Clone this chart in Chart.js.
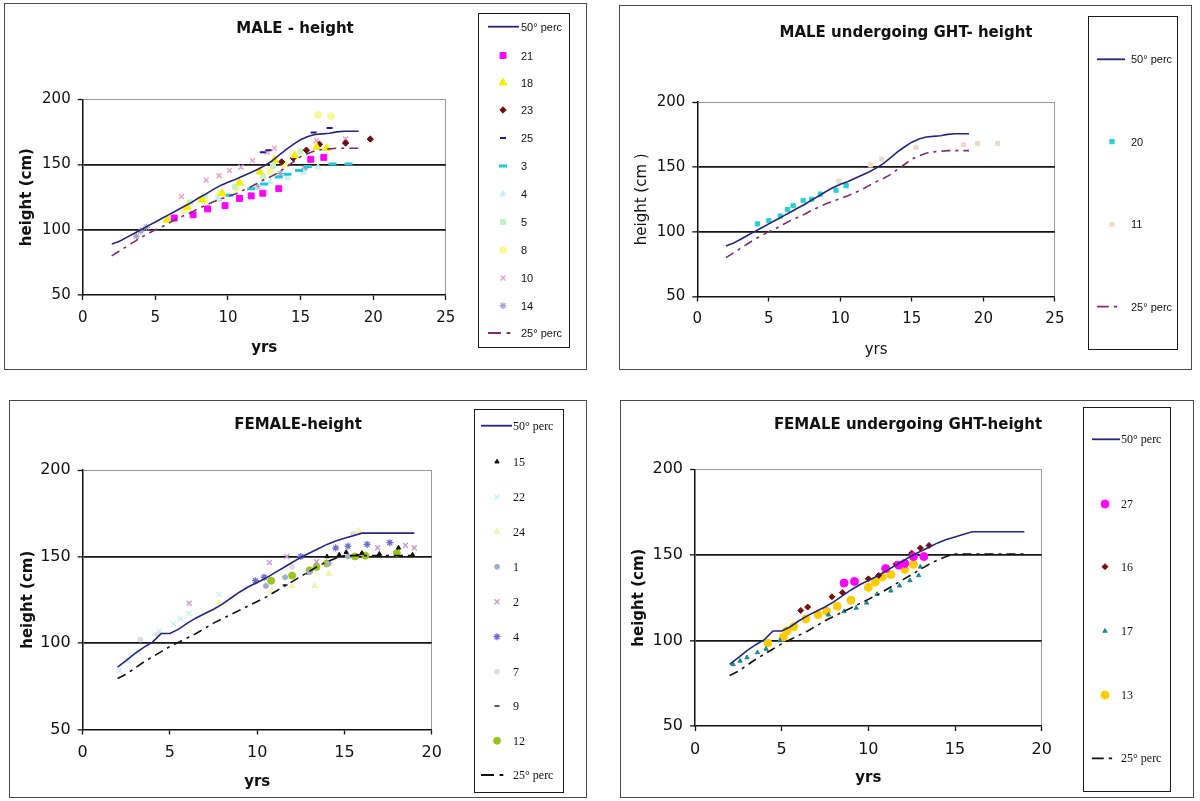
<!DOCTYPE html>
<html>
<head>
<meta charset="utf-8">
<title>Height charts</title>
<script src="https://cdn.jsdelivr.net/npm/chart.js@4.4.1/dist/chart.umd.min.js"></script>
<style>
  html, body { margin: 0; padding: 0; background: #fff; }
  #page { position: relative; width: 1200px; height: 801px; overflow: hidden; background: #fff; }
  .panel { position: absolute; border: 1px solid #4a4a4a; box-sizing: border-box; }
  .panel canvas { position: absolute; left: 0; top: 0; }
  .title { position: absolute; font: bold 15px "DejaVu Sans", sans-serif; white-space: nowrap; transform: translate(-50%, -50%); color: #111; }
  .legbox { position: absolute; border: 1.5px solid #1a1a1a; box-sizing: border-box; }
  .legtext { position: absolute; white-space: nowrap; transform: translateY(-50%); color: #111; line-height: 1; }
  #legendLayer { position: absolute; left: 0; top: 0; pointer-events: none; }
</style>
</head>
<body>
<div id="page"></div>
<script>
const percAge  = [2, 2.5, 3, 3.5, 4, 4.5, 5, 5.5, 6, 6.5, 7, 7.5, 8, 8.5, 9, 9.5, 10, 10.5, 11, 11.5, 12, 12.5, 13, 13.5, 14, 14.5, 15, 15.5, 16, 16.5, 17, 17.5, 18, 18.5, 19];
const male50   = [89, 91, 94, 97, 100, 103, 106, 109, 112, 115, 118, 121, 124.5, 127.5, 131, 134, 136.5, 138.5, 141, 143.5, 146, 149, 152.5, 157, 161.5, 165.5, 169, 171.5, 173, 173.5, 174, 175, 175.5, 175.5, 175.5];
const male25   = [80, 83.5, 87, 90.5, 94, 97, 100, 102.5, 105.5, 108.5, 111, 113.5, 116.5, 119, 121.5, 123.5, 125.5, 127.5, 130, 132.5, 135.5, 138.5, 141, 144, 148, 152, 156, 158.5, 160.5, 161.5, 162, 162.5, 162.5, 162.5, 162.5];
const female50 = [86, 90, 94, 97.5, 100.5, 105.5, 105.5, 108, 111.5, 114.5, 117, 119.5, 122.5, 126, 129.5, 132.5, 135, 137.5, 140.5, 143.5, 146.5, 149.5, 152, 154.5, 157, 159, 160.5, 162, 163.5, 163.5, 163.5, 163.5, 163.5, 163.5, 163.5];
const female25 = [79.5, 82, 85.5, 89, 92, 95, 98, 100.5, 103, 105.5, 108.5, 111.5, 114, 116.5, 119, 121.5, 124, 126.5, 129.5, 132.5, 135.5, 138.5, 141.5, 144.5, 147, 149, 150.5, 150.5, 150.5, 150.5, 150.5, 150.5, 150.5, 150.5, 150.5];

// MALE - height
const m21Age = [6.3, 7.6, 8.6, 9.8, 10.8, 11.6, 12.4, 13.5, 15.7, 16.6];
const m21Ht  = [109, 111.5, 116, 118.5, 124, 126, 128, 131.5, 154, 155.5];
const m18Age = [5.8, 7.2, 8.2, 9.6, 10.8, 12.2, 13.2, 14.6, 16.1, 16.8];
const m18Ht  = [107.5, 117.5, 123, 128, 136, 144.5, 153.5, 157, 163.5, 162.5];
const m23Age = [13.7, 14.5, 15.4, 16.3, 18.1, 19.8];
const m23Ht  = [152, 155, 161, 165.5, 166.5, 169.5];
const m25Age = [12.4, 12.8, 15.9, 17.0];
const m25Ht  = [159.5, 161, 174.5, 178];
const m3Age  = [10.1, 11.6, 12.5, 13.5, 14.1, 14.9, 15.5, 17.2, 18.3];
const m3Ht   = [126.5, 131.5, 135, 140.5, 142.5, 145.5, 148.5, 150.5, 150.5];
const m4Age  = [9.3, 11.8, 12.9, 14.1, 15.2, 16.2];
const m4Ht   = [124, 133, 137, 140, 144, 148];
const m5Age  = [7.4, 8.4, 10.5, 12.4, 13.1, 15.0];
const m5Ht   = [121, 126, 133, 141, 149, 160];
const m8Age  = [5.9, 7.0, 8.4, 9.4, 10.6, 12.9, 13.9, 16.2, 17.1];
const m8Ht   = [108, 115, 122, 127, 132, 145, 150, 188, 187];
const m10Age = [6.8, 8.5, 9.4, 10.1, 10.9, 11.7, 12.7, 13.2, 16.1, 18.1];
const m10Ht  = [125.5, 138, 141.5, 145.5, 148, 153, 159.5, 162.5, 168.5, 169.5];
const m14Age = [3.7, 4.0, 4.4, 9.4, 12.0, 13.6, 15.3];
const m14Ht  = [95, 99, 102, 124, 133, 143, 147];

// MALE undergoing GHT - height
const g20Age = [4.2, 5.0, 5.8, 6.3, 6.7, 7.4, 8.0, 8.6, 9.7, 10.4];
const g20Ht  = [106, 108.5, 112, 117, 120, 124, 125, 129, 132, 135.5];
const g11Age = [9.9, 12.1, 12.9, 15.3, 18.6, 19.6, 21.0];
const g11Ht  = [139, 151.5, 156, 165, 167, 168, 168];

// FEMALE - height
const f15Age = [14.0, 14.7, 15.1, 16.0, 17.0, 18.1, 18.9];
const f15Ht  = [150, 151, 152.5, 152, 151.5, 155, 151];
const f22Age = [2.1, 2.6, 3.2, 4.4, 5.2, 5.6, 6.1, 7.8];
const f22Ht  = [84, 90, 95, 107, 111, 114, 117, 128];
const f24Age = [7.8, 10.8, 12.0, 13.3, 14.1, 15.8];
const f24Ht  = [123, 130, 133, 133, 140, 165];
const f1Age  = [10.5, 11.6, 13.0, 14.1, 15.2];
const f1Ht   = [133, 138, 141, 146, 150];
const f2Age  = [6.1, 10.7, 11.7, 13.4, 16.9, 18.5, 19.0];
const f2Ht   = [123, 146.5, 150, 147, 155, 156.5, 155];
const f4Age  = [9.9, 10.4, 12.5, 14.5, 15.2, 16.3, 17.6];
const f4Ht   = [136, 138, 150, 155, 156, 157, 158];
const f7Age  = [3.3, 4.3, 12.0, 15.5];
const f7Ht   = [102, 105, 144, 163];
const f9Age  = [11.6, 12.9, 15.8, 17.0];
const f9Ht   = [133.5, 140, 151, 151];
const f12Age = [10.8, 12.0, 13.0, 13.4, 14.0, 15.6, 16.2, 18.0];
const f12Ht  = [136, 139, 142, 144, 146, 150, 150.5, 152];

// FEMALE undergoing GHT - height
const h27Age = [8.6, 9.2, 11.0, 11.75, 12.1, 12.6, 13.2];
const h27Ht  = [133.5, 134.5, 142, 144, 145, 149, 149];
const h16Age = [6.1, 6.5, 7.9, 8.5, 10.0, 10.6, 11.6, 12.5, 13.0, 13.5];
const h16Ht  = [117.5, 119.5, 125.5, 128, 136, 138, 144.5, 151, 154, 155.5];
const h17Age = [2.2, 2.6, 3.0, 3.6, 4.1, 4.9, 7.7, 8.6, 9.3, 9.9, 10.5, 11.3, 11.8, 12.4, 12.9, 13.0];
const h17Ht  = [86, 88, 90, 93, 95, 100, 115, 117, 119, 122, 127, 129, 132, 135, 138, 143];
const h13Age = [4.2, 5.1, 5.3, 5.7, 6.4, 7.1, 7.6, 8.2, 9.0, 10.0, 10.4, 10.8, 11.3, 12.1, 12.6];
const h13Ht  = [98.5, 102, 105.5, 108, 112.5, 115, 117, 120, 123.5, 131, 134, 137, 138.5, 141.5, 144.5];

const heightTicks = [50, 100, 150, 200];

const NAVY = '#26267a';

function pts(ages, hts) {
    return ages.map((a, i) => ({ x: a, y: hts[i] }));
}

function curve(label, ages, hts, color, dashed) {
    return {
        label: label, data: pts(ages, hts), showLine: true,
        borderColor: color, backgroundColor: color, borderWidth: 1.6,
        borderDash: dashed ? [9, 5, 3, 5] : [], pointRadius: 0, order: 0
    };
}

function marks(label, ages, hts, color, style, r, bw) {
    return {
        label: label, data: pts(ages, hts), showLine: false,
        pointStyle: style, pointRadius: r, borderColor: color, backgroundColor: color,
        borderWidth: bw || 1, order: 1
    };
}

const panels = [
    {
        box: [4, 3, 583, 367], area: [82.7, 99.3, 445.8, 295], xMax: 25,
        title: 'MALE - height', titleAt: [295, 28],
        yTitle: 'height (cm)', xTitle: 'yrs', bold: true, yTitleX: 26.7, xTitleY: 348.3, tickSize: 15,
        legend: { box: [478, 13, 570, 348], line: [488, 519], mark: 503, text: 521, font: '11px "Liberation Sans", Arial, sans-serif',
                  rows: [26.7, 55.5, 82.7, 110, 138, 166, 194, 222, 250, 278, 305.7, 333] },
        datasets: [
            curve('50° perc', percAge, male50, NAVY, false),
            marks('21', m21Age, m21Ht, '#ff00ff', 'rect', 4.2),
            marks('18', m18Age, m18Ht, '#f2ee00', 'triangle', 4.5),
            marks('23', m23Age, m23Ht, '#6b0f0f', 'rectRot', 3.2),
            marks('25', m25Age, m25Ht, '#1f1f80', 'line', 3, 2),
            marks('3', m3Age, m3Ht, '#22c8d8', 'line', 4, 3),
            marks('4', m4Age, m4Ht, '#c6f2f2', 'triangle', 3.5),
            marks('5', m5Age, m5Ht, '#c6efc6', 'rect', 3.5),
            marks('8', m8Age, m8Ht, '#f8f89a', 'circle', 3.5),
            marks('10', m10Age, m10Ht, '#e6a4cf', 'crossRot', 3.5, 1.5),
            marks('14', m14Age, m14Ht, '#a3a3cf', 'star', 3.5, 1.2),
            curve('25° perc', percAge, male25, '#7a2f6e', true)
        ]
    },
    {
        box: [619, 5, 573, 365], area: [697.3, 102, 1054.9, 296.5], xMax: 25,
        title: 'MALE undergoing GHT- height', titleAt: [906, 32],
        yTitle: 'height (cm )', xTitle: 'yrs', bold: false, yTitleX: 641.7, xTitleY: 350, tickSize: 15,
        legend: { box: [1088, 16, 1178, 350], line: [1097, 1125], mark: 1112, text: 1131, font: '11px "Liberation Sans", Arial, sans-serif',
                  rows: [59.3, 141.7, 224.3, 306.7] },
        datasets: [
            curve('50° perc', percAge, male50, NAVY, false),
            marks('20', g20Age, g20Ht, '#2ccfcf', 'rect', 3),
            marks('11', g11Age, g11Ht, '#e9dccd', 'rect', 3),
            curve('25° perc', percAge, male25, '#7a2f6e', true)
        ]
    },
    {
        box: [9, 400, 578, 398], area: [82.7, 470, 431.7, 729.5], xMax: 20,
        title: 'FEMALE-height', titleAt: [298, 424],
        yTitle: 'height (cm)', xTitle: 'yrs', bold: true, yTitleX: 28, xTitleY: 781.7, tickSize: 16,
        legend: { box: [474, 409, 564, 793], line: [481, 512], mark: 497, text: 513, font: '12px "Liberation Serif", serif',
                  rows: [425.7, 461.7, 497.3, 531.7, 566.7, 601.7, 636.7, 671.7, 706, 740.7, 775] },
        datasets: [
            curve('50° perc', percAge, female50, NAVY, false),
            marks('15', f15Age, f15Ht, '#111111', 'triangle', 2.5),
            marks('22', f22Age, f22Ht, '#c8f0f6', 'crossRot', 3.5, 1.5),
            marks('24', f24Age, f24Ht, '#f4f4ae', 'triangle', 3.5),
            marks('1', f1Age, f1Ht, '#9fb0cc', 'circle', 2.5),
            marks('2', f2Age, f2Ht, '#cf9ccf', 'crossRot', 3.5, 1.5),
            marks('4', f4Age, f4Ht, '#6e6ed0', 'star', 3.5, 1.3),
            marks('7', f7Age, f7Ht, '#dcdcdc', 'circle', 2.5),
            marks('9', f9Age, f9Ht, '#222222', 'line', 2.5, 1.5),
            marks('12', f12Age, f12Ht, '#9bc41a', 'circle', 3.5),
            curve('25° perc', percAge, female25, '#111111', true)
        ]
    },
    {
        box: [620, 400, 574, 398], area: [695, 469.3, 1041.7, 726], xMax: 20,
        title: 'FEMALE undergoing GHT-height', titleAt: [908, 424],
        yTitle: 'height (cm)', xTitle: 'yrs', bold: true, yTitleX: 639.4, xTitleY: 778.3, tickSize: 16,
        legend: { box: [1083, 407, 1171, 792], line: [1092, 1120], mark: 1105, text: 1121, font: '12px "Liberation Serif", serif',
                  rows: [439.3, 504, 566.7, 631, 695, 758.3] },
        datasets: [
            curve('50° perc', percAge, female50, NAVY, false),
            marks('27', h27Age, h27Ht, '#ff00ff', 'circle', 4),
            marks('16', h16Age, h16Ht, '#7a0d0d', 'rectRot', 3),
            marks('17', h17Age, h17Ht, '#1f8a8a', 'triangle', 2.5),
            marks('13', h13Age, h13Ht, '#ffcc00', 'circle', 4),
            curve('25° perc', percAge, female25, '#111111', true)
        ]
    }
];

const page = document.getElementById('page');

function buildPanel(p) {
    const div = document.createElement('div');
    div.className = 'panel';
    div.style.left = p.box[0] + 'px';
    div.style.top = p.box[1] + 'px';
    div.style.width = p.box[2] + 'px';
    div.style.height = p.box[3] + 'px';

    const ox = p.box[0] + 1, oy = p.box[1] + 1;
    const cw = p.box[2] - 2, ch = p.box[3] - 2;
    const canvas = document.createElement('canvas');
    canvas.width = cw;
    canvas.height = ch;
    canvas.style.width = cw + 'px';
    canvas.style.height = ch + 'px';
    div.appendChild(canvas);
    page.appendChild(div);

    // plot area inside the canvas
    const aL = p.area[0] - ox, aT = p.area[1] - oy, aR = p.area[2] - ox, aB = p.area[3] - oy;
    const xH = p.xTitleY - oy - aB + 9; // puts the centre of "yrs" on xTitleY

    const titleFont = { family: 'DejaVu Sans', size: 15, weight: p.bold ? 'bold' : 'normal', lineHeight: 1.2 };
    const tickFont = { family: 'DejaVu Sans', size: p.tickSize };

    new Chart(canvas, {
        type: 'scatter',
        data: { datasets: p.datasets },
        options: {
            responsive: false,
            animation: false,
            devicePixelRatio: 1,
            layout: { padding: { left: 0, top: aT, right: cw - aR, bottom: ch - aB - xH } },
            plugins: { legend: { display: false }, tooltip: { enabled: false }, title: { display: false } },
            scales: {
                x: {
                    type: 'linear', position: 'bottom', min: 0, max: p.xMax,
                    ticks: { stepSize: 5, padding: 9, color: '#111', font: tickFont, maxRotation: 0 },
                    grid: {
                        color: c => (c.tick && c.tick.value === p.xMax) ? '#9a9a9a' : 'rgba(0,0,0,0)',
                        tickColor: '#111', tickLength: 5, tickWidth: 1.3
                    },
                    border: { display: true, color: '#111', width: 1.5 },
                    title: { display: true, text: p.xTitle, color: '#111', font: titleFont, padding: { top: 0, bottom: 0 } },
                    afterFit: s => { s.height = xH; s.paddingLeft = 0; s.paddingRight = 0; }
                },
                y: {
                    type: 'linear', position: 'left', min: 50, max: 200,
                    afterBuildTicks: s => { s.ticks = heightTicks.map(v => ({ value: v })); },
                    ticks: { padding: 7, color: '#111', font: tickFont },
                    grid: {
                        color: c => {
                            if (!c.tick) return 'rgba(0,0,0,0)';
                            if (c.tick.value === 200) return '#9a9a9a';
                            if (c.tick.value === 50) return 'rgba(0,0,0,0)';
                            return '#151515';
                        },
                        lineWidth: c => (c.tick && c.tick.value === 200) ? 1 : 1.7,
                        tickColor: '#111', tickLength: 5, tickWidth: 1.3
                    },
                    border: { display: true, color: '#111', width: 1.5 },
                    title: { display: true, text: p.yTitle, color: '#111', font: titleFont, padding: { top: p.yTitleX - ox - 9, bottom: 0 } },
                    afterFit: s => { s.width = aL; s.paddingTop = 0; s.paddingBottom = 0; }
                }
            }
        }
    });

    const t = document.createElement('div');
    t.className = 'title';
    t.textContent = p.title;
    t.style.left = p.titleAt[0] + 'px';
    t.style.top = p.titleAt[1] + 'px';
    page.appendChild(t);
}

panels.forEach(buildPanel);

// legend boxes
panels.forEach(p => {
    const L = p.legend;
    const box = document.createElement('div');
    box.className = 'legbox';
    box.style.left = L.box[0] + 'px';
    box.style.top = L.box[1] + 'px';
    box.style.width = (L.box[2] - L.box[0]) + 'px';
    box.style.height = (L.box[3] - L.box[1]) + 'px';
    page.appendChild(box);
});

// legend symbols on one layer, texts as html
const layer = document.createElement('canvas');
layer.id = 'legendLayer';
layer.width = 1200;
layer.height = 801;
page.appendChild(layer);
const lctx = layer.getContext('2d');

function drawSymbol(ds, L, y) {
    lctx.save();
    if (ds.showLine) {
        lctx.strokeStyle = ds.borderColor;
        lctx.lineWidth = 1.8;
        lctx.beginPath();
        const x0 = L.line[0], len = L.line[1] - L.line[0];
        if (ds.borderDash.length) {
            lctx.moveTo(x0, y); lctx.lineTo(x0 + len * 0.42, y);
            lctx.moveTo(x0 + len * 0.6, y); lctx.lineTo(x0 + len * 0.72, y);
        } else {
            lctx.moveTo(x0, y); lctx.lineTo(L.line[1], y);
        }
        lctx.stroke();
    } else {
        lctx.fillStyle = ds.backgroundColor;
        lctx.strokeStyle = ds.borderColor;
        lctx.lineWidth = ds.borderWidth;
        if (Chart.helpers && Chart.helpers.drawPoint) {
            Chart.helpers.drawPoint(lctx, { pointStyle: ds.pointStyle, radius: ds.pointRadius, rotation: 0, borderWidth: ds.borderWidth }, L.mark, y);
        } else {
            lctx.beginPath();
            lctx.arc(L.mark, y, ds.pointRadius, 0, Math.PI * 2);
            lctx.fill();
        }
    }
    lctx.restore();
}

panels.forEach(p => {
    const L = p.legend;
    p.datasets.forEach((ds, i) => {
        const y = L.rows[i];
        drawSymbol(ds, L, y);
        const t = document.createElement('div');
        t.className = 'legtext';
        t.textContent = ds.label;
        t.style.font = L.font;
        t.style.left = L.text + 'px';
        t.style.top = y + 'px';
        page.appendChild(t);
    });
});
</script>
</body>
</html>
